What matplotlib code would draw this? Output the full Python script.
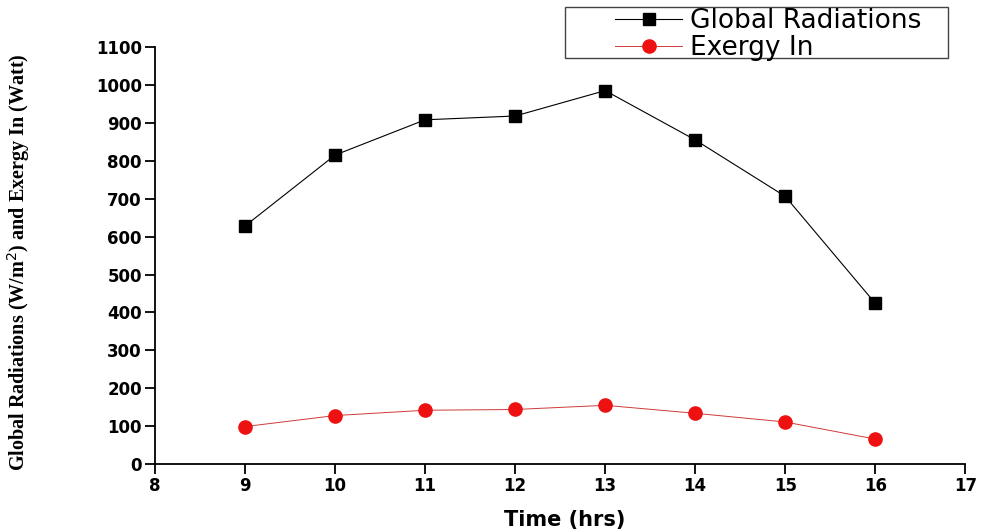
import matplotlib.pyplot as plt
from matplotlib.patches import Rectangle

# Data
time_hrs = [9, 10, 11, 12, 13, 14, 15, 16]
global_radiation = [628, 815, 908, 918, 985, 855, 706, 424]
exergy_in = [99, 128, 142, 144, 155, 134, 111, 66]

x_ticks = [8, 9, 10, 11, 12, 13, 14, 15, 16, 17]
y_ticks = [0, 100, 200, 300, 400, 500, 600, 700, 800, 900, 1000, 1100]

fig = plt.figure(figsize=(9.81, 5.31), dpi=100)
ax = fig.add_axes([0.158, 0.126, 0.826, 0.7855])

ax.plot(time_hrs, global_radiation, color='black', linewidth=0.8,
        marker='s', markersize=8.5, label='Global Radiations')
ax.plot(time_hrs, exergy_in, color='#d03a3a', linewidth=0.7,
        marker='o', markersize=9.5, markerfacecolor='#ee1111',
        markeredgecolor='#ee1111', label='Exergy In')

ax.set_xlim(8, 17)
ax.set_ylim(0, 1100)
ax.set_xticks(x_ticks)
ax.set_yticks(y_ticks)

# Only left and bottom axes
ax.spines['top'].set_visible(False)
ax.spines['right'].set_visible(False)
ax.spines['left'].set_linewidth(1.3)
ax.spines['bottom'].set_linewidth(1.3)
ax.tick_params(axis='both', direction='out', length=7, width=1.3,
               labelsize=12, pad=2.5)
for lbl in ax.get_xticklabels() + ax.get_yticklabels():
    lbl.set_fontweight('bold')

ax.set_ylabel(r'Global Radiations (W/m$^2$) and Exergy In (Watt)',
              family='Liberation Serif', fontweight='bold', fontsize=14.5)
ax.yaxis.set_label_coords(-0.152, 0.484)
ax.set_xlabel('Time (hrs)', fontweight='bold', fontsize=15)
ax.xaxis.set_label_coords(0.506, -0.11)

# Legend at the top right with a plain rectangular frame
leg = fig.legend(loc='upper left', bbox_to_anchor=(615 / 981, 1 - 8 / 531),
                 frameon=False, fontsize=19, handlelength=2.55,
                 handletextpad=0.28, labelspacing=0.05, borderpad=0,
                 borderaxespad=0)
fig.patches.append(Rectangle((565 / 981, 1 - 58 / 531), 383 / 981, 51 / 531,
                             transform=fig.transFigure, fill=False,
                             edgecolor='#444444', linewidth=1.0))

fig.savefig('out.png', dpi=100)
